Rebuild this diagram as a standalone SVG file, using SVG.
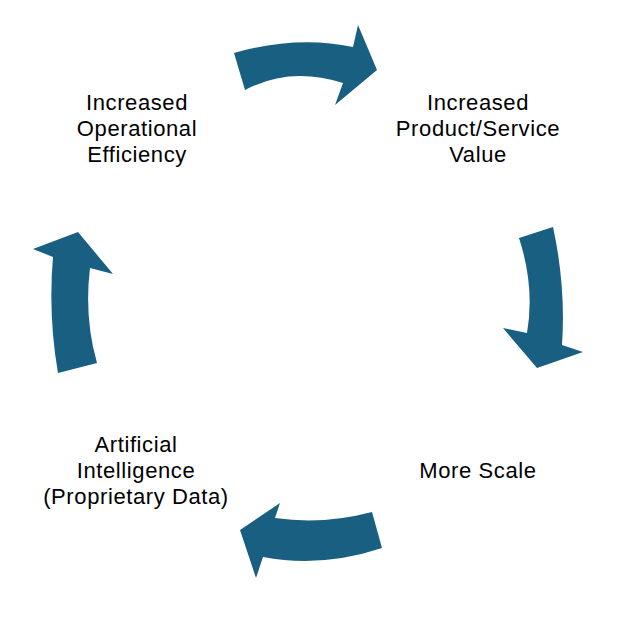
<svg xmlns="http://www.w3.org/2000/svg" width="622" height="617" viewBox="0 0 622 617">
<style>
.arrow{fill:#185f81;stroke:none}
.lbl{font-family:"Liberation Sans",Arial,sans-serif;font-size:22px;letter-spacing:0.6px;fill:#000;text-anchor:middle}
</style>
<rect width="622" height="617" fill="#fff"/>
<g id="connectors">
<path class="arrow" d="M234,53 Q297,35 353,47 L358,25 L377,70 L335,105 L343,83 Q290,66 245,90 Z"/>
<path class="arrow" d="M519,238 L553,227 Q566,287 562,345 L583,352 L537,368 L503,328 L527,333 Q535,287 519,238 Z"/>
<path class="arrow" d="M372,512 L382,548 Q322,568 263,557 L256,578 L240,530 L280,503 L275,518 Q323,525 372,512 Z"/>
<path class="arrow" d="M58,373 Q48,315 53,257 L33,249 L78,232 L113,274 L90,268 Q84,318 97,363 Z"/>
</g>
<g id="node-efficiency">
<text class="lbl" x="137" y="110">Increased</text>
<text class="lbl" x="137" y="136">Operational</text>
<text class="lbl" x="137" y="162">Efficiency</text>
</g>
<g id="node-value">
<text class="lbl" x="478" y="110">Increased</text>
<text class="lbl" x="478" y="136">Product/Service</text>
<text class="lbl" x="478" y="162">Value</text>
</g>
<g id="node-scale">
<text class="lbl" x="478" y="478">More Scale</text>
</g>
<g id="node-ai">
<text class="lbl" x="136" y="452">Artificial</text>
<text class="lbl" x="136" y="478">Intelligence</text>
<text class="lbl" x="136" y="504">(Proprietary Data)</text>
</g>
</svg>
